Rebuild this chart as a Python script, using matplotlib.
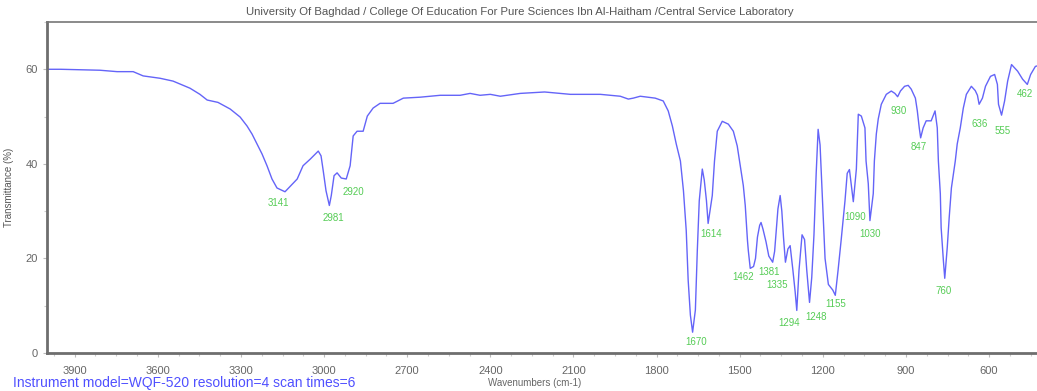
import matplotlib
matplotlib.use("Agg")
import matplotlib.pyplot as plt
from matplotlib.ticker import MultipleLocator, FixedLocator

# FT-IR spectrum: wavenumber (cm-1) and transmittance (%)
wavenumber = [
    4000, 3950, 3881, 3809, 3747, 3689, 3653, 3592, 3545, 3484, 3448, 3422,
    3383, 3339, 3303, 3278, 3260, 3242, 3224, 3206, 3188, 3170, 3141, 3123,
    3097, 3076, 3050, 3021, 3011, 3003, 2993, 2981, 2974, 2964, 2953, 2938,
    2920, 2906, 2895, 2881, 2859, 2844, 2823, 2798, 2751, 2714, 2653, 2581,
    2509, 2473, 2437, 2400, 2364, 2292, 2204, 2111, 2003, 1931, 1902, 1884,
    1859, 1805, 1776, 1758, 1743, 1729, 1714, 1703, 1693, 1686, 1678, 1670,
    1660, 1653, 1646, 1635, 1628, 1620, 1614, 1599, 1591, 1581, 1563, 1541,
    1523, 1509, 1498, 1487, 1480, 1472, 1469, 1462, 1450, 1443, 1436, 1428,
    1423, 1416, 1405, 1395, 1381, 1374, 1368, 1362, 1354, 1348, 1342, 1335,
    1326, 1318, 1308, 1300, 1294, 1286, 1275, 1266, 1258, 1248, 1240, 1232,
    1224, 1217, 1210, 1202, 1192, 1180, 1172, 1164, 1155, 1145, 1134, 1120,
    1112, 1104, 1090, 1079, 1072, 1061, 1048, 1044, 1036, 1030, 1018, 1014,
    1007, 1000, 989, 971, 953, 940, 930, 920, 905, 892, 881, 866,
    859, 852, 847, 838, 827, 809, 795, 787, 783, 776, 773, 765,
    760, 751, 744, 736, 722, 715, 704, 693, 682, 664, 650, 642,
    636, 624, 613, 595, 580, 570, 566, 555, 544, 533, 519, 497,
    479, 462, 450, 433, 400,
]
transmittance = [
    60.0, 60.0, 59.9, 59.8, 59.5, 59.5, 58.6, 58.1, 57.5, 56.0, 54.7, 53.5,
    53.0, 51.6, 49.9, 48.0, 46.3, 44.2, 42.1, 39.6, 36.8, 34.9, 34.1, 35.2,
    36.8, 39.6, 41.0, 42.7, 41.7, 38.5, 34.3, 31.2, 33.3, 37.5, 38.1, 37.0,
    36.8, 39.6, 45.9, 46.9, 46.9, 50.1, 51.8, 52.8, 52.8, 53.9, 54.1, 54.5,
    54.5, 54.9, 54.5, 54.7, 54.3, 54.9, 55.2, 54.7, 54.7, 54.3, 53.7, 53.9,
    54.3, 53.9, 53.3, 51.2, 48.0, 44.2, 40.6, 34.3, 25.9, 15.4, 8.0, 4.4,
    9.1, 21.7, 32.2, 38.9, 36.6, 32.2, 27.4, 33.3, 40.6, 46.9, 49.0, 48.4,
    46.9, 43.8, 39.6, 35.4, 31.2, 23.8, 21.7, 17.9, 18.3, 20.0, 24.5, 27.0,
    27.6, 26.2, 23.5, 20.5, 19.2, 21.5, 26.0, 30.5, 33.3, 30.0, 24.5, 19.2,
    22.0, 22.7, 17.5, 13.0, 9.0, 17.5, 25.0, 24.0, 17.5, 10.7, 16.0, 25.0,
    38.0, 47.3, 44.0, 33.3, 20.0, 14.5, 13.9, 13.3, 12.2, 17.5, 23.8, 32.2,
    38.0, 38.8, 32.0, 38.9, 50.5, 50.1, 47.6, 40.6, 35.8, 28.0, 33.7, 40.6,
    46.3, 49.5, 52.6, 54.7, 55.4, 54.9, 54.2, 55.4, 56.4, 56.6, 55.8, 53.9,
    51.2, 47.6, 45.5, 47.6, 49.1, 49.1, 51.2, 47.6, 40.6, 33.7, 26.5, 19.6,
    15.8, 22.3, 28.6, 34.9, 40.6, 44.2, 47.6, 51.8, 54.7, 56.4, 55.5, 54.5,
    52.6, 53.9, 56.4, 58.5, 58.9, 56.8, 52.6, 50.3, 53.3, 57.5, 61.0, 59.6,
    57.9, 56.8, 58.9, 60.6, 61.2,
]

# Picked peaks
peak_labels = ["3141", "2981", "2920", "1670", "1614", "1462", "1381", "1335",
               "1294", "1248", "1155", "1090", "1030", "930", "847", "760",
               "636", "555", "462"]
peak_wavenumber = [3141, 2981, 2920, 1670, 1614, 1462, 1381, 1335,
                   1294, 1248, 1155, 1090, 1030, 930, 847, 760,
                   636, 555, 462]
# label offsets from the peak point, in pixels (right, down)
label_offsets = [(-7, 11), (4, 13), (7, 13), (4, 10), (3, 11), (-7, 9), (-4, 10),
                 (-8, 23), (-8, 13), (7, 15), (0, 9), (2, 15), (0, 13), (1, 14),
                 (-2, 9), (-1, 13), (1, 20), (1, 16), (-2, 10)]

x_ticks = [3900, 3600, 3300, 3000, 2700, 2400, 2100, 1800, 1500, 1200, 900, 600]
y_ticks = [0, 20, 40, 60]

plt.rcParams['font.family'] = ['Liberation Sans', 'DejaVu Sans']

W, H = 1037, 391
fig = plt.figure(figsize=(W / 100, H / 100), dpi=100)
ax = fig.add_axes([47 / W, 38 / H, (1044.5 - 47) / W, (353 - 22) / H])

line_color = '#6464f8'
ax.plot(wavenumber, transmittance, color=line_color, lw=1.0)

t_lookup = dict(zip(wavenumber, transmittance))
pt = 72 / 100
for lab, wn, (dx, dy) in zip(peak_labels, peak_wavenumber, label_offsets):
    ax.annotate(lab, xy=(wn, t_lookup[wn]), xytext=(dx * pt, -dy * pt),
                textcoords='offset points', ha='center', va='center',
                fontsize=7, color='#55cc55')

ax.set_xlim(4000, 400)
ax.set_ylim(0, 70)
ax.xaxis.set_major_locator(FixedLocator(x_ticks))
ax.xaxis.set_minor_locator(MultipleLocator(75))
ax.yaxis.set_major_locator(FixedLocator(y_ticks))
ax.yaxis.set_minor_locator(MultipleLocator(10))

for side in ('left', 'bottom'):
    ax.spines[side].set_color('#6e6e6e')
    ax.spines[side].set_linewidth(2.0)
ax.spines['top'].set_color('#777777')
ax.spines['top'].set_linewidth(1.2)
ax.spines['right'].set_visible(False)

ax.tick_params(axis='both', which='major', length=3, width=0.8, color='#bbbbbb',
               labelsize=8, labelcolor='#666666')
ax.tick_params(axis='both', which='minor', length=2, width=0.8, color='#cccccc')
ax.tick_params(axis='x', which='major', pad=6)

ax.set_xlabel('Wavenumbers (cm-1)', fontsize=7, color='#666666', labelpad=2)
ax.xaxis.set_label_coords((535 - 47) / (1044.5 - 47), -0.075)
ax.set_ylabel('Transmittance (%)', fontsize=7, color='#555555')
ax.yaxis.set_label_coords(-0.033, 0.5)

fig.text(520 / W, 1 - 12 / H,
         'University Of Baghdad / College Of Education For Pure Sciences Ibn Al-Haitham /Central Service Laboratory',
         ha='center', va='center', fontsize=8.2, color='#555555')
fig.text(13 / W, 1 - 383 / H,
         'Instrument model=WQF-520 resolution=4 scan times=6',
         ha='left', va='center', fontsize=10, color='#5050ff')

fig.savefig('out.png', dpi=100)
